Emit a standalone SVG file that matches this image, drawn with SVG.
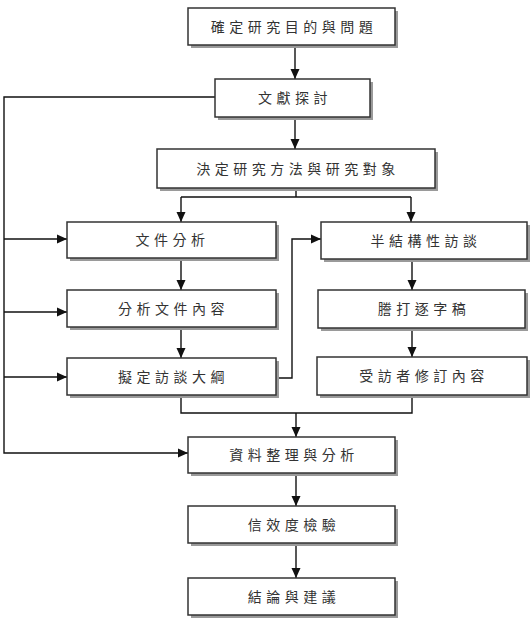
<svg xmlns="http://www.w3.org/2000/svg" width="531" height="633" viewBox="0 0 531 633">
<defs>
<marker id="arr" markerUnits="userSpaceOnUse" markerWidth="10" markerHeight="10" viewBox="0 0 10 10" refX="10" refY="5" orient="auto">
<path d="M0,0.5 L10,5 L0,9.5 Z" fill="#111"/>
</marker>
</defs>
<style>
.box rect.sh{fill:#9a9a9a;stroke:none;}
.box rect.fg{fill:#fff;stroke:#333;stroke-width:1.5;}
.box text{font-family:"Noto Sans CJK TC","Noto Sans CJK SC",sans-serif;font-size:14px;fill:#333;text-anchor:middle;letter-spacing:4.5px;}
.con path,.con line{fill:none;stroke:#111;stroke-width:1.4;}
.con .a{marker-end:url(#arr);}
</style>
<rect width="531" height="633" fill="#fff"/>
<g class="con">
<line class="a" x1="295" y1="45" x2="295" y2="79"/>
<line class="a" x1="295" y1="117" x2="295" y2="149"/>
<path d="M296,188 V197 M181,197 H411"/>
<line class="a" x1="181" y1="197" x2="181" y2="222"/>
<line class="a" x1="411" y1="197" x2="411" y2="222"/>
<line class="a" x1="181" y1="258" x2="181" y2="290"/>
<line class="a" x1="181" y1="327" x2="181" y2="358"/>
<line class="a" x1="412" y1="259" x2="412" y2="290"/>
<line class="a" x1="412" y1="328" x2="412" y2="357"/>
<path class="a" d="M276,378 H292 V239 H321"/>
<path class="a" d="M215,97 H4 V453 H188"/>
<line class="a" x1="4" y1="239" x2="67" y2="239"/>
<line class="a" x1="4" y1="312" x2="67" y2="312"/>
<line class="a" x1="4" y1="377" x2="67" y2="377"/>
<path d="M181,395 V413 H412 V395"/>
<line class="a" x1="296" y1="413" x2="296" y2="437"/>
<line class="a" x1="296" y1="473" x2="296" y2="506"/>
<line class="a" x1="296" y1="543" x2="296" y2="578"/>
</g>
<g id="n1" class="box"><rect class="sh" x="191" y="11" width="207" height="37"/><rect class="fg" x="188" y="8" width="207" height="37"/><text x="294" y="31.5">確定研究目的與問題</text></g>
<g id="n2" class="box"><rect class="sh" x="218" y="82" width="155" height="38"/><rect class="fg" x="215" y="79" width="155" height="38"/><text x="295" y="103">文獻探討</text></g>
<g id="n3" class="box"><rect class="sh" x="160" y="152" width="278" height="39"/><rect class="fg" x="157" y="149" width="278" height="39"/><text x="298" y="173.5">決定研究方法與研究對象</text></g>
<g id="n4" class="box"><rect class="sh" x="70" y="225" width="209" height="36"/><rect class="fg" x="67" y="222" width="209" height="36"/><text x="172.5" y="245">文件分析</text></g>
<g id="n5" class="box"><rect class="sh" x="70" y="293" width="209" height="37"/><rect class="fg" x="67" y="290" width="209" height="37"/><text x="173.5" y="313.5">分析文件內容</text></g>
<g id="n6" class="box"><rect class="sh" x="70" y="361" width="209" height="37"/><rect class="fg" x="67" y="358" width="209" height="37"/><text x="173.5" y="381.5">擬定訪談大綱</text></g>
<g id="n7" class="box"><rect class="sh" x="324" y="225" width="206" height="37"/><rect class="fg" x="321" y="222" width="206" height="37"/><text x="426" y="245.5">半結構性訪談</text></g>
<g id="n8" class="box"><rect class="sh" x="321" y="293" width="207" height="38"/><rect class="fg" x="318" y="290" width="207" height="38"/><text x="424" y="314">謄打逐字稿</text></g>
<g id="n9" class="box"><rect class="sh" x="320" y="360" width="210" height="38"/><rect class="fg" x="317" y="357" width="210" height="38"/><text x="424" y="381">受訪者修訂內容</text></g>
<g id="n10" class="box"><rect class="sh" x="191" y="440" width="207" height="36"/><rect class="fg" x="188" y="437" width="207" height="36"/><text x="294" y="460">資料整理與分析</text></g>
<g id="n11" class="box"><rect class="sh" x="191" y="509" width="207" height="37"/><rect class="fg" x="188" y="506" width="207" height="37"/><text x="294" y="529.5">信效度檢驗</text></g>
<g id="n12" class="box"><rect class="sh" x="191" y="581" width="207" height="37"/><rect class="fg" x="188" y="578" width="207" height="37"/><text x="294" y="601.5">結論與建議</text></g>
</svg>
